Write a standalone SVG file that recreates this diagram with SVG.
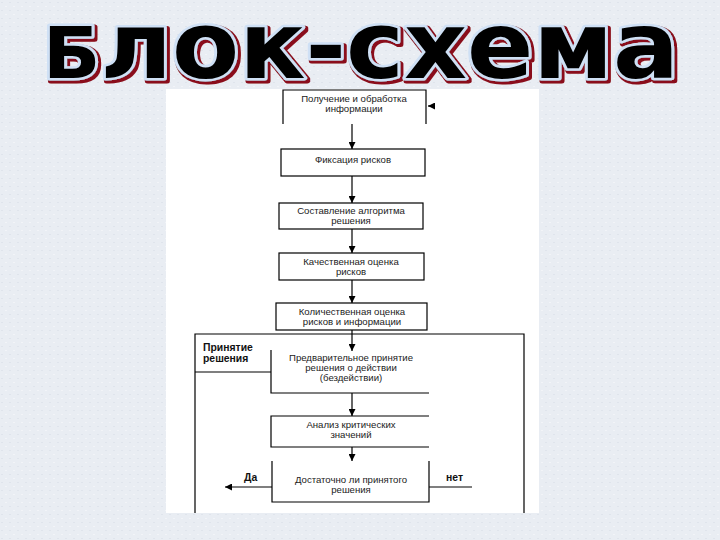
<svg xmlns="http://www.w3.org/2000/svg" width="720" height="540" viewBox="0 0 720 540">
<defs>
<pattern id="tex" width="8" height="8" patternUnits="userSpaceOnUse">
<rect width="8" height="8" fill="#e9edf3"/>
<rect x="1" y="2" width="2" height="1" fill="#dfe4ec"/>
<rect x="5" y="6" width="2" height="1" fill="#f2f4f8"/>
</pattern>
<filter id="shadow" x="-5%" y="-20%" width="110%" height="140%">
<feMorphology in="SourceAlpha" operator="dilate" radius="1" result="d"/>
<feOffset in="d" dx="2" dy="2" result="o"/>
<feFlood flood-color="#8a0f1a"/>
<feComposite in2="o" operator="in" result="s"/>
<feMerge><feMergeNode in="s"/><feMergeNode in="SourceGraphic"/></feMerge>
</filter>
<marker id="ah" viewBox="0 0 8 8" refX="8" refY="4" markerWidth="7" markerHeight="7" markerUnits="userSpaceOnUse" orient="auto">
<path d="M0,0 L8,4 L0,8 Z" fill="#000"/>
</marker>
<style>
.ln{fill:none;stroke:#000;stroke-width:1.2}
.con{fill:none;stroke:#000;stroke-width:1.2;marker-end:url(#ah)}
.t{font-family:"Liberation Sans",Arial,sans-serif;font-size:9.6px;fill:#222;text-anchor:middle}
.b{font-family:"Liberation Sans",Arial,sans-serif;font-size:10.4px;font-weight:bold;fill:#111}
.title{font-family:"Liberation Sans Narrow","DejaVu Sans Condensed","Liberation Sans",sans-serif;font-weight:bold;fill:#000;stroke:#cfe0f5;stroke-width:5;stroke-linejoin:round;paint-order:stroke;filter:url(#shadow)}
</style>
</defs>
<rect width="720" height="540" fill="url(#tex)"/>
<g id="title">
<text class="title" x="43" y="78" textLength="636" lengthAdjust="spacingAndGlyphs" font-size="92"><tspan font-size="71">Б</tspan>лок-схема</text>
</g>
<rect id="panel" x="166" y="89" width="373" height="424" fill="#fff"/>
<g id="n1">
<path class="ln" d="M283,124 V90 H426 V124"/>
<text class="t" x="354" y="102">Получение и обработка</text>
<text class="t" x="354" y="112">информации</text>
</g>
<g id="n2">
<rect class="ln" x="281" y="149" width="144" height="27"/>
<text class="t" x="353" y="163">Фиксация рисков</text>
</g>
<g id="n3">
<rect class="ln" x="279" y="203" width="144" height="26"/>
<text class="t" x="351" y="214">Составление алгоритма</text>
<text class="t" x="351" y="224">решения</text>
</g>
<g id="n4">
<rect class="ln" x="279" y="253" width="145" height="27"/>
<text class="t" x="351" y="265">Качественная оценка</text>
<text class="t" x="351" y="275">рисков</text>
</g>
<g id="n5">
<rect class="ln" x="276" y="303" width="151" height="27"/>
<text class="t" x="352" y="315">Количественная оценка</text>
<text class="t" x="352" y="325">рисков и информации</text>
</g>
<g id="decision-frame">
<path class="ln" d="M195,513 V334 H524 V513"/>
<path class="ln" d="M195,372 H271"/>
<text class="b" x="203" y="351">Принятие</text>
<text class="b" x="203" y="362">решения</text>
</g>
<g id="n6">
<path class="ln" d="M271,350 V393 H429"/>
<text class="t" x="351" y="361">Предварительное принятие</text>
<text class="t" x="351" y="371">решения о действии</text>
<text class="t" x="351" y="381">(бездействии)</text>
</g>
<g id="n7">
<path class="ln" d="M429,416 H271 V447 H429"/>
<text class="t" x="351" y="428">Анализ критических</text>
<text class="t" x="351" y="438">значений</text>
</g>
<g id="n8">
<path class="ln" d="M272,461 V502 H429 V461"/>
<text class="t" x="351" y="483">Достаточно ли принятого</text>
<text class="t" x="351" y="493">решения</text>
</g>
<g id="connectors">
<path class="con" d="M352,124 V149"/>
<path class="con" d="M352,176 V203"/>
<path class="con" d="M352,229 V253"/>
<path class="con" d="M352,280 V303"/>
<path class="con" d="M352,330 V351"/>
<path class="con" d="M352,393 V416"/>
<path class="con" d="M352,447 V461"/>
<path class="con" d="M272,487 H225"/>
<path class="ln" d="M429,487 H472"/>
<path class="con" d="M434,106 H428"/>
<text class="b" x="244" y="481">Да</text>
<text class="b" x="446" y="481">нет</text>
</g>
</svg>
